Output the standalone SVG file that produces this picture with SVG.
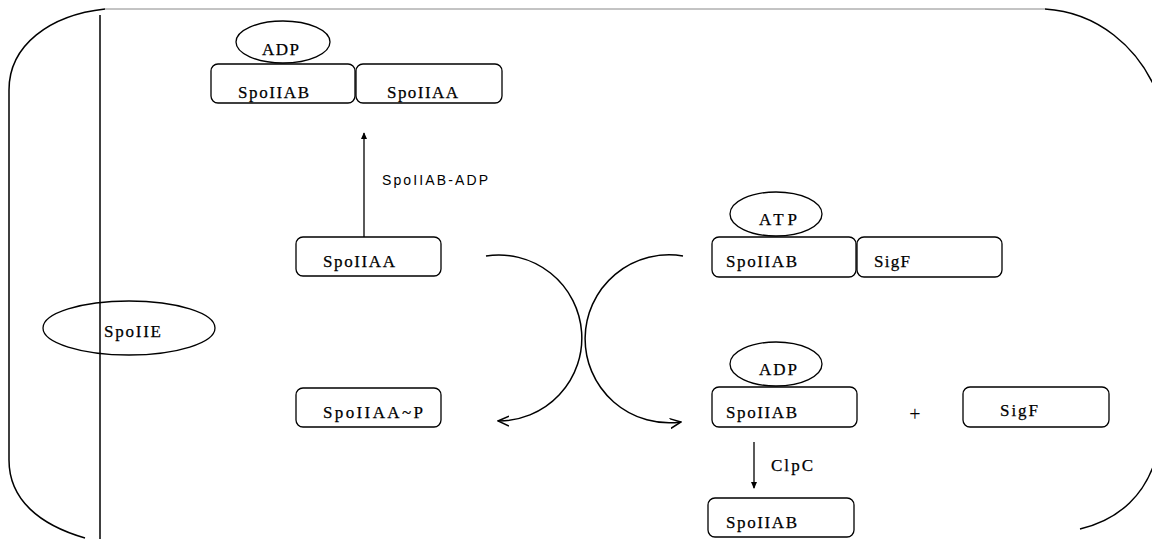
<svg xmlns="http://www.w3.org/2000/svg" width="1152" height="539" viewBox="0 0 1152 539">
<style>
.box{fill:#fff;stroke:#000;stroke-width:1.3}
.ell{fill:#fff;stroke:#000;stroke-width:1.3}
.t{font-family:"Liberation Serif","Times New Roman",serif;font-size:17px;fill:#000;stroke:#000;stroke-width:0.25}
.s{font-family:"Liberation Sans",Arial,sans-serif;font-size:14px;fill:#000}
.ln{fill:none;stroke:#000;stroke-width:1.5}
.ar{fill:none;stroke:#000;stroke-width:1.3}
</style>
<defs>
<marker id="open" viewBox="0 0 12 12" refX="11" refY="6" markerWidth="12" markerHeight="12" markerUnits="userSpaceOnUse" orient="auto">
<path d="M0,1 L11,6 L0,11" fill="none" stroke="#000" stroke-width="1.5"/>
</marker>
<marker id="solid" viewBox="0 0 8 8" refX="7" refY="4" markerWidth="7" markerHeight="7" markerUnits="userSpaceOnUse" orient="auto">
<path d="M0,0.5 L8,4 L0,7.5 Z" fill="#000"/>
</marker>
</defs>
<rect width="1152" height="539" fill="#fff"/>
<g id="cell">
<path class="ln" d="M105,9 C50,15 9,45 9,90 L9,460 C9,500 40,525 85,538"/>
<path d="M105,9 L1045,9" stroke="#888" stroke-width="1" fill="none"/>
<path class="ln" d="M1045,9 C1095,12 1140,45 1160,100"/>
<path class="ln" d="M1158,450 C1148,495 1118,520 1080,529"/>
<path class="ln" d="M100,15 L100,539"/>
</g>
<g id="spoIIE">
<ellipse class="ell" cx="129" cy="328" rx="86" ry="27" style="fill:none"/>
<text class="t" x="104" y="337" textLength="57" lengthAdjust="spacing">SpoIIE</text>
</g>
<g id="complex-top">
<rect class="box" x="211" y="64" width="144" height="39" rx="7"/>
<rect class="box" x="356" y="64" width="146" height="39" rx="7"/>
<ellipse class="ell" cx="283" cy="42" rx="47" ry="21"/>
<text class="t" x="262" y="55" textLength="37" lengthAdjust="spacing">ADP</text>
<text class="t" x="238" y="98" textLength="71" lengthAdjust="spacing">SpoIIAB</text>
<text class="t" x="387" y="98" textLength="71" lengthAdjust="spacing">SpoIIAA</text>
</g>
<g id="spoIIAA">
<rect class="box" x="296" y="237" width="145" height="39" rx="7"/>
<text class="t" x="323" y="267" textLength="72" lengthAdjust="spacing">SpoIIAA</text>
</g>
<g id="spoIIAA-P">
<rect class="box" x="296" y="388" width="145" height="39" rx="7"/>
<text class="t" x="323" y="418" textLength="100" lengthAdjust="spacing">SpoIIAA~P</text>
</g>
<g id="complex-atp">
<rect class="box" x="712" y="237" width="144" height="40" rx="7"/>
<rect class="box" x="857" y="237" width="145" height="40" rx="7"/>
<ellipse class="ell" cx="776" cy="214" rx="46" ry="22"/>
<text class="t" x="759" y="225" textLength="38" lengthAdjust="spacing">ATP</text>
<text class="t" x="726" y="267" textLength="71" lengthAdjust="spacing">SpoIIAB</text>
<text class="t" x="874" y="267" textLength="36" lengthAdjust="spacing">SigF</text>
</g>
<g id="spoIIAB-adp">
<rect class="box" x="712" y="387" width="145" height="40" rx="7"/>
<ellipse class="ell" cx="776" cy="364" rx="46" ry="22"/>
<text class="t" x="759" y="375" textLength="38" lengthAdjust="spacing">ADP</text>
<text class="t" x="726" y="418" textLength="71" lengthAdjust="spacing">SpoIIAB</text>
</g>
<g id="plus">
<text x="915" y="421" text-anchor="middle" font-family="Liberation Serif, serif" font-size="20">+</text>
</g>
<g id="sigF">
<rect class="box" x="963" y="387" width="146" height="40" rx="7"/>
<text class="t" x="1000" y="416" textLength="38" lengthAdjust="spacing">SigF</text>
</g>
<g id="spoIIAB">
<rect class="box" x="708" y="498" width="146" height="39" rx="7"/>
<text class="t" x="726" y="528" textLength="71" lengthAdjust="spacing">SpoIIAB</text>
</g>
<g id="connectors">
<path class="ar" d="M364,237 L364,133" marker-end="url(#solid)"/>
<text class="s" x="382" y="185" textLength="106" lengthAdjust="spacing">SpoIIAB-ADP</text>
<path class="ln" d="M486,256 A83,83 0 1 1 498,421" marker-end="url(#open)"/>
<path class="ln" d="M683,256 A84,84 0 1 0 681,422" marker-end="url(#open)"/>
<path class="ar" d="M754,442 L754,488" marker-end="url(#solid)"/>
<text class="t" x="771" y="471" textLength="42" lengthAdjust="spacing">ClpC</text>
</g>
</svg>
